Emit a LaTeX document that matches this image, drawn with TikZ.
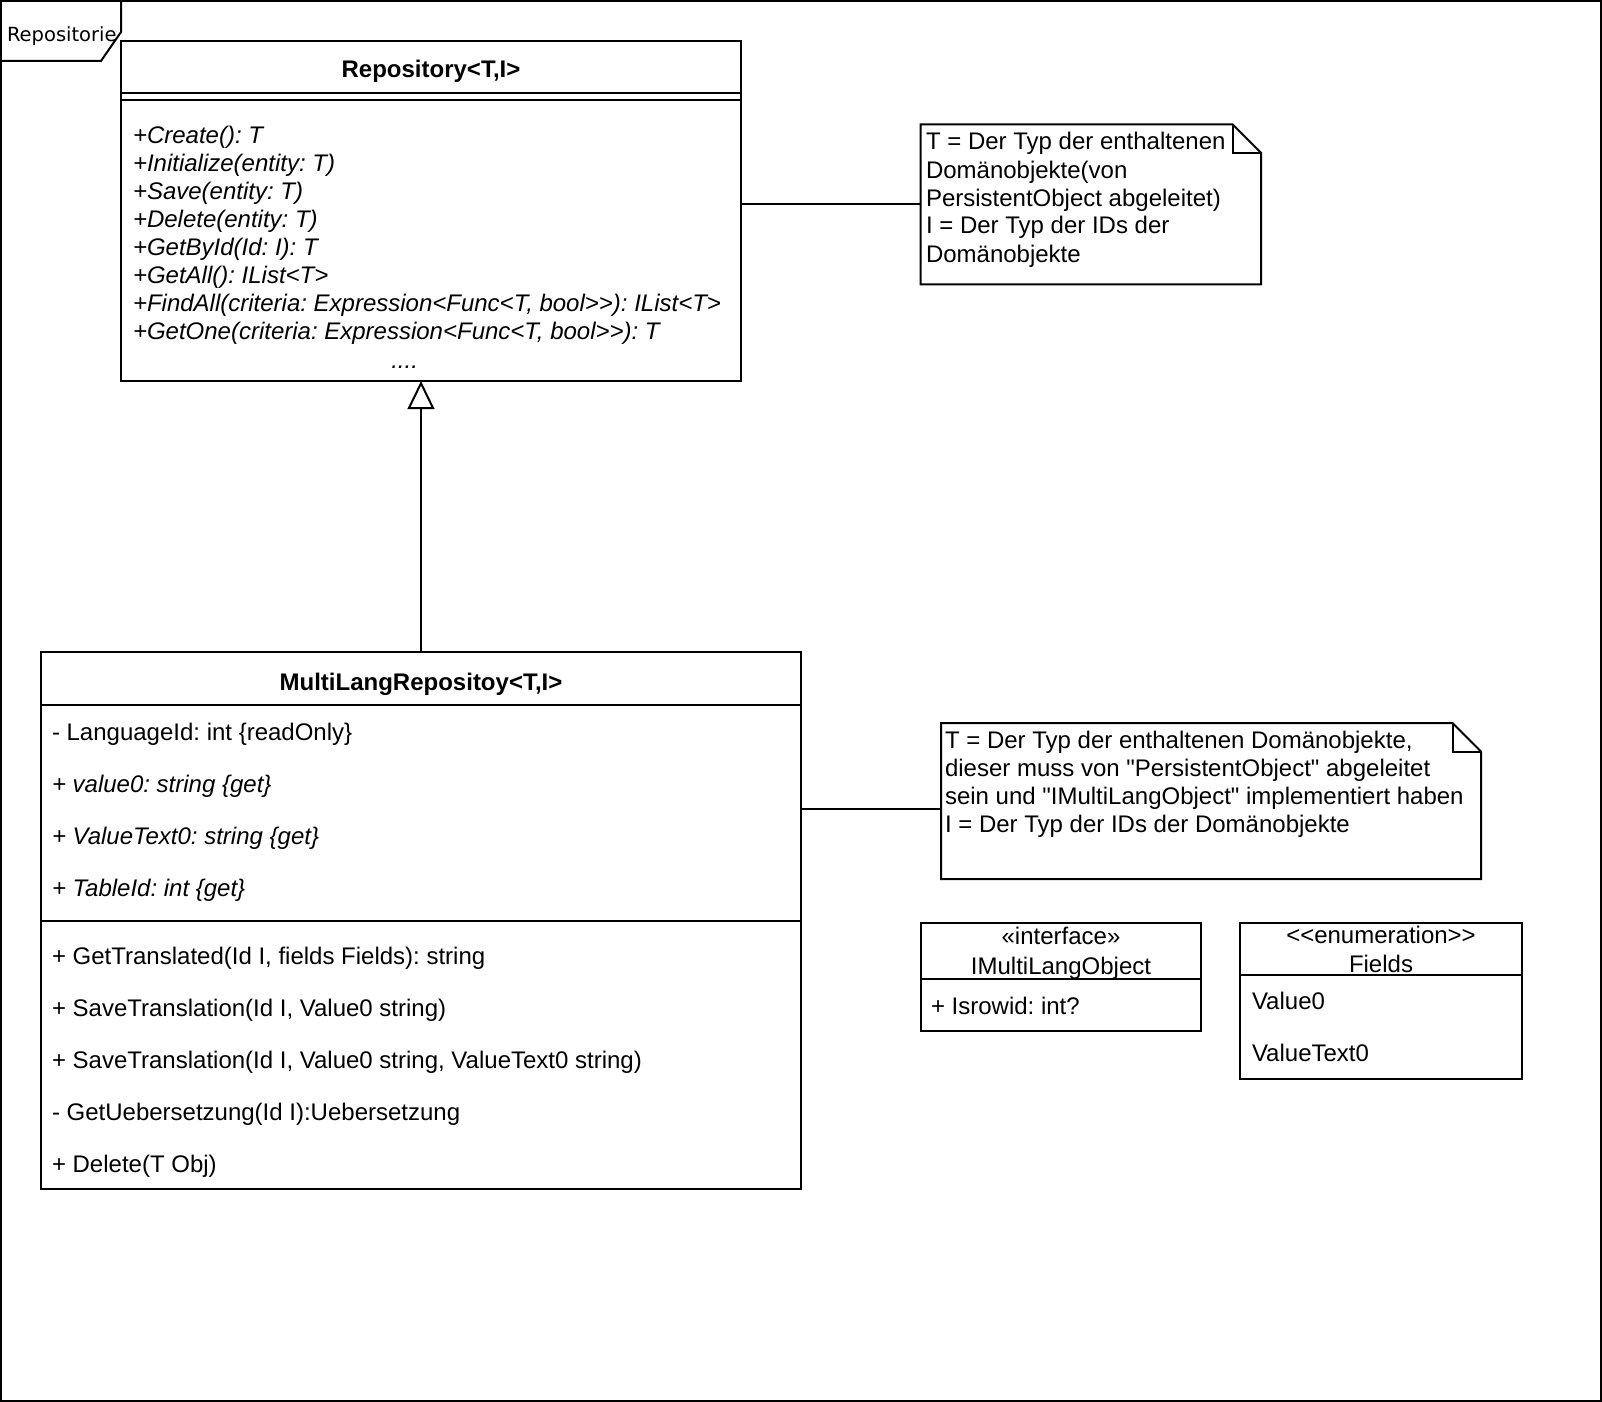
\documentclass[tikz,border=0pt]{standalone}
\usepackage{fontspec}
\setmainfont{Liberation Sans}[Ligatures=TeXOff]
\newfontfamily\framefont{DejaVu Sans}[Ligatures=TeXOff]
\usetikzlibrary{arrows.meta}
\frenchspacing
\begin{document}
\begin{tikzpicture}[x=0.5pt,y=-0.5pt,line width=1pt,
  box/.style={draw,rectangle,inner sep=0pt,outer sep=0pt,anchor=north west},
  ghost/.style={rectangle,inner sep=0pt,outer sep=0pt,anchor=north west},
  txt/.style={inner sep=0pt,outer sep=0pt,anchor=base west,font=\fontsize{12pt}{14pt}\selectfont\frenchspacing},
  itxt/.style={txt,font=\fontsize{12pt}{14pt}\selectfont\itshape\frenchspacing},
  ctxt/.style={txt,anchor=base},
  btxt/.style={txt,anchor=base,font=\fontsize{12pt}{14pt}\selectfont\bfseries},
  notebody/.style={line join=miter}]
\useasboundingbox (0,0) rectangle (1602,1402);

% frame
\node[box,minimum width=800pt,minimum height=700pt] (frame) at (1,1) {};
\draw (1,61) -- (101,61) -- (121,32) -- (121,1);
\node[inner sep=0pt,outer sep=0pt,anchor=base west,font=\framefont\fontsize{9.75pt}{11pt}\selectfont] (framelabel) at (7,41.7) {Repositorie};

% Repository
\node[box,minimum width=310pt,minimum height=170pt] (repo) at (121,41) {};
\draw (repo.west |- 0,93) -- (repo.east |- 0,93);
\draw (repo.west |- 0,100) -- (repo.east |- 0,100);
\node[btxt] (repotitle) at (431,77.5) {Repository<T,I>};
\foreach \t [count=\i from 0] in {{+Create(): T},{+Initialize(entity: T)},{+Save(entity: T)},{+Delete(entity: T)},{+GetById(Id: I): T},{+GetAll(): IList<T>},{+FindAll(criteria: Expression<Func<T, bool>>): IList<T>},{+GetOne(criteria: Expression<Func<T, bool>>): T}}
  {\node[itxt] (rm\i) at (133,143.3+28*\i) {\t};}
\node[itxt,anchor=base] (rdots) at (404.6,368) {....};

% note 1
\node[ghost,minimum width=170.15pt,minimum height=80pt] (note1) at (920.7,124.3) {};
\draw[notebody] (note1.north west) -- ([xshift=-14.25pt]note1.north east) -- ([yshift=-14.25pt]note1.north east) -- (note1.south east) -- (note1.south west) -- cycle;
\draw ([xshift=-14.25pt]note1.north east) -- ([xshift=-14.25pt,yshift=-14.25pt]note1.north east) -- ([yshift=-14.25pt]note1.north east);
\foreach \t [count=\i from 0] in {{T = Der Typ der enthaltenen},{Domänobjekte(von},{PersistentObject abgeleitet)},{I = Der Typ der IDs der},{Domänobjekte}}
  {\node[txt] (n1l\i) at (926,150+28*\i) {\t};}
\draw (repo.east |- note1.west) -- (note1.west);

% MultiLangRepositoy
\node[box,minimum width=380pt,minimum height=268.3pt] (ml) at (41,652) {};
\draw (ml.west |- 0,705) -- (ml.east |- 0,705);
\draw (ml.west |- 0,921) -- (ml.east |- 0,921);
\node[btxt] (mltitle) at (421,690) {MultiLangRepositoy<T,I>};
\node[txt] (ma0) at (52,740) {- LanguageId: int \{readOnly\}};
\node[itxt] (ma1) at (52,792) {+ value0: string \{get\}};
\node[itxt] (ma2) at (52,844) {+ ValueText0: string \{get\}};
\node[itxt] (ma3) at (52,896) {+ TableId: int \{get\}};
\foreach \t [count=\i from 0] in {{+ GetTranslated(Id I, fields Fields): string},{+ SaveTranslation(Id I, Value0 string)},{+ SaveTranslation(Id I, Value0 string, ValueText0 string)},{- GetUebersetzung(Id I):Uebersetzung},{+ Delete(T Obj)}}
  {\node[txt] (mm\i) at (52,964+52*\i) {\t};}

% inheritance
\draw[-{Triangle[open,length=14pt,width=13.4pt]}] (ml.north) -- (ml.north |- repo.south);

% note 2
\node[ghost,minimum width=270pt,minimum height=78pt] (note2) at (941,723) {};
\draw[notebody] (note2.north west) -- ([xshift=-14.25pt]note2.north east) -- ([yshift=-14.25pt]note2.north east) -- (note2.south east) -- (note2.south west) -- cycle;
\draw ([xshift=-14.25pt]note2.north east) -- ([xshift=-14.25pt,yshift=-14.25pt]note2.north east) -- ([yshift=-14.25pt]note2.north east);
\foreach \t [count=\i from 0] in {{T = Der Typ der enthaltenen Domänobjekte,},{dieser muss von "PersistentObject" abgeleitet},{sein und "IMultiLangObject" implementiert haben},{I = Der Typ der IDs der Domänobjekte}}
  {\node[txt] (n2l\i) at (945,748+28*\i) {\t};}
\coordinate (c2) at (0,808.7);
\draw (c2 -| ml.east) -- (c2 -| note2.west);

% interface
\node[box,minimum width=140pt,minimum height=54pt] (iface) at (921,922.7) {};
\draw (iface.west |- 0,979.3) -- (iface.east |- 0,979.3);
\node[ctxt] (ifst) at (1061,944) {«interface»};
\node[ctxt] (ifname) at (1061,974) {IMultiLangObject};
\node[txt] (ifa) at (931,1014) {+ Isrowid: int?};

% enumeration
\node[box,minimum width=141pt,minimum height=78.15pt] (enum) at (1240,922.7) {};
\draw (enum.west |- 0,975) -- (enum.east |- 0,975);
\node[ctxt] (enst) at (1381,943) {<<enumeration>>};
\node[ctxt] (enname) at (1381,972) {Fields};
\node[txt] (en0) at (1252,1009) {Value0};
\node[txt] (en1) at (1252,1061) {ValueText0};
\end{tikzpicture}
\end{document}
